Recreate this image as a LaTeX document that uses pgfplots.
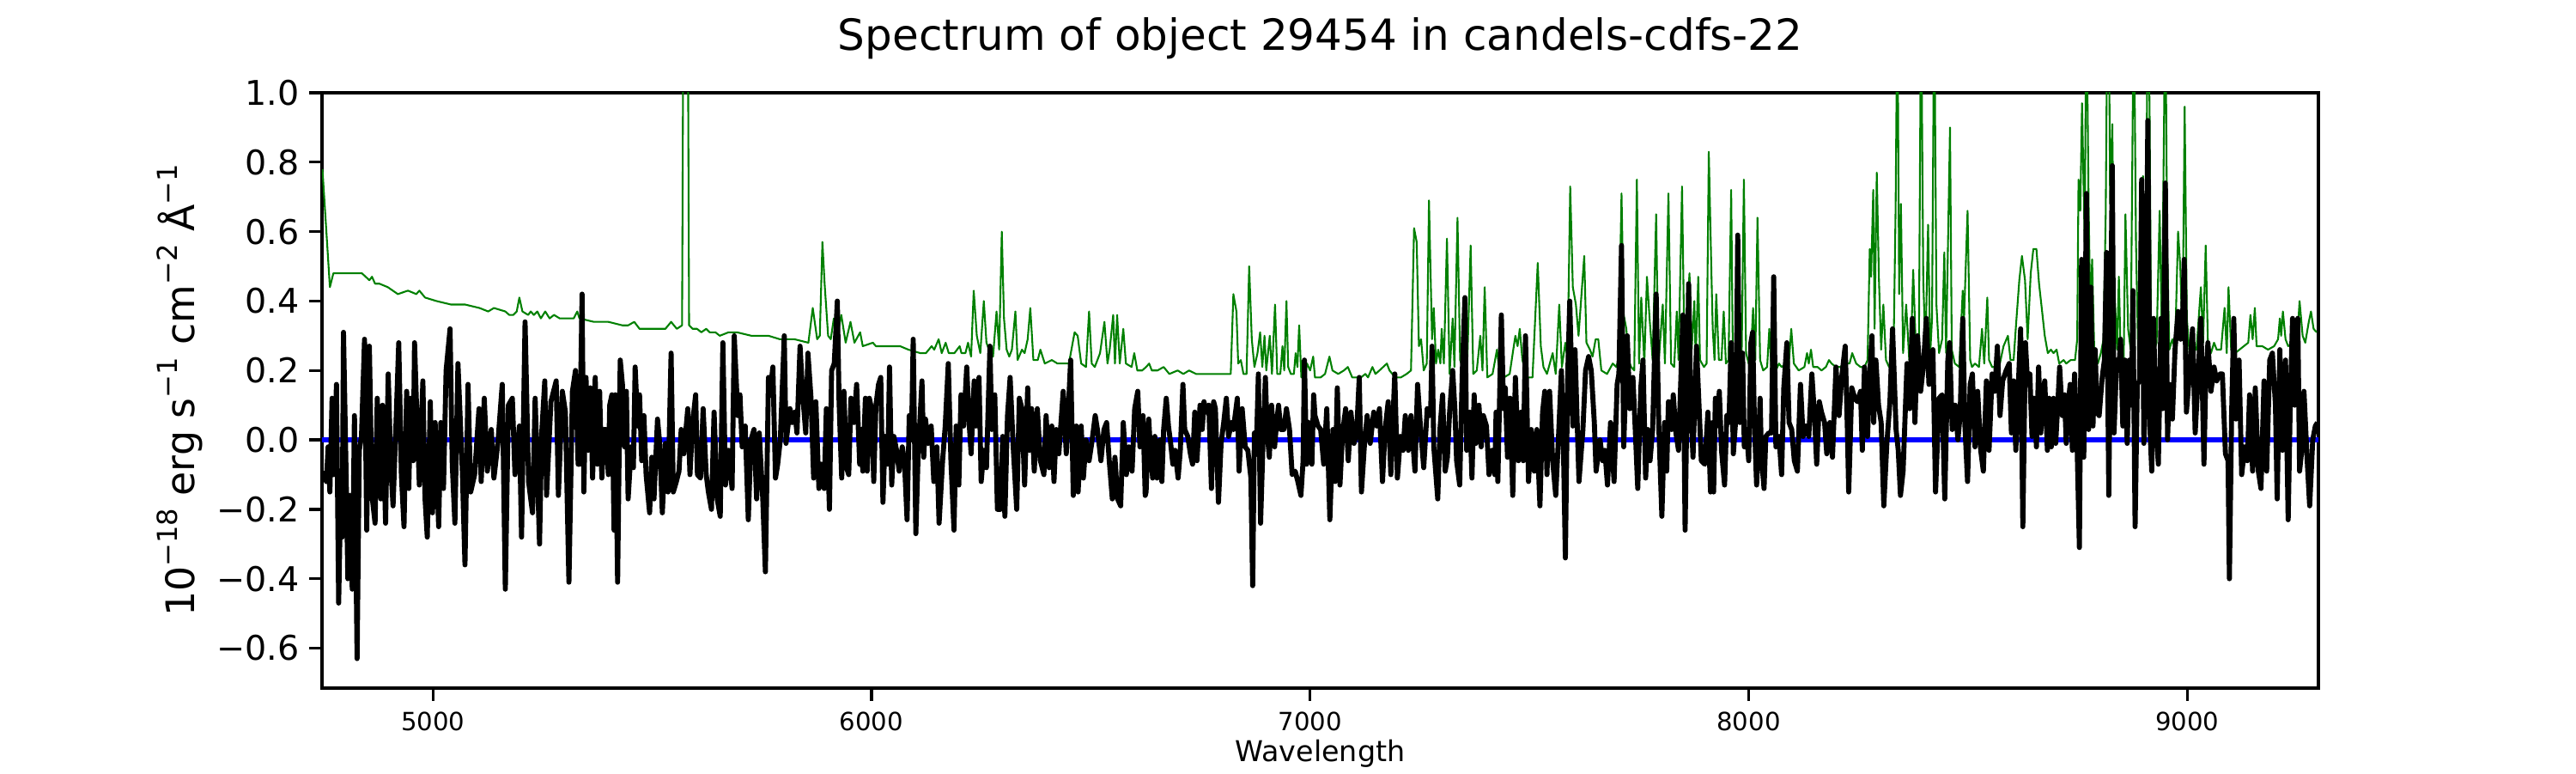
\documentclass[border=0pt]{standalone}
\usepackage{pgfplots}
\pgfplotsset{compat=1.18}
\usepackage{pgfplotstable}
\usepackage{fontspec}
\setmainfont{DejaVu Sans}
\definecolor{mplgreen}{rgb}{0,0.5,0}
\newcommand\sups[1]{\raisebox{0.42em}{\fontsize{7.7bp}{8bp}\selectfont #1}}

\pgfplotstableread{
x y
4750 -0.09
4757 -0.12
4761 -0.02
4765 -0.15
4770 0.12
4774 -0.10
4780 0.16
4785 -0.47
4789 -0.19
4793 -0.28
4796 0.31
4802 -0.10
4806 -0.40
4810 -0.16
4816 -0.43
4821 0.07
4827 -0.63
4832 -0.03
4837 0.01
4844 0.29
4849 -0.26
4855 0.27
4861 -0.16
4868 -0.24
4873 0.12
4881 -0.17
4885 0.10
4892 -0.24
4898 0.19
4904 -0.08
4909 -0.19
4915 0.02
4922 0.28
4928 -0.10
4934 -0.25
4940 0.14
4945 -0.14
4949 0.12
4955 -0.06
4958 0.28
4962 0.12
4969 -0.13
4977 0.17
4982 -0.17
4987 -0.28
4994 0.11
4999 -0.21
5005 0.05
5013 -0.25
5018 0.05
5024 -0.14
5030 0.20
5039 0.32
5044 -0.07
5050 -0.24
5057 0.22
5067 -0.09
5073 -0.36
5080 0.16
5086 -0.15
5095 -0.10
5105 0.09
5110 -0.12
5117 0.12
5124 -0.09
5133 0.03
5139 -0.11
5148 -0.01
5158 0.16
5165 -0.43
5172 0.10
5181 0.12
5187 -0.10
5197 0.04
5202 -0.28
5210 0.34
5218 -0.12
5227 -0.21
5233 0.12
5243 -0.30
5248 0.02
5255 0.17
5259 -0.16
5269 0.11
5281 0.17
5286 -0.16
5295 0.14
5302 0.08
5310 -0.41
5318 0.14
5325 0.20
5331 -0.07
5334 -0.07
5340 0.42
5344 -0.15
5349 0.18
5354 -0.03
5359 0.15
5364 -0.11
5370 0.18
5375 -0.07
5380 0.14
5385 -0.11
5390 0.03
5394 0.03
5400 -0.10
5403 0.10
5408 0.13
5413 -0.26
5416 0.13
5421 -0.41
5427 0.23
5432 0.16
5437 -0.02
5441 0.14
5445 -0.17
5452 -0.02
5457 -0.08
5461 0.21
5467 0.04
5471 0.13
5476 -0.06
5481 0.07
5486 -0.10
5494 -0.21
5499 -0.05
5504 -0.17
5512 0.06
5517 -0.01
5523 -0.21
5530 -0.01
5536 -0.15
5543 0.25
5548 -0.15
5555 -0.12
5561 -0.09
5566 0.03
5572 -0.04
5581 0.09
5586 -0.10
5592 0.05
5599 0.13
5603 -0.10
5610 -0.11
5616 0.09
5623 -0.10
5628 -0.15
5635 -0.20
5641 0.08
5648 -0.17
5655 -0.22
5661 0.28
5667 -0.13
5674 -0.03
5682 -0.14
5687 0.30
5695 0.07
5700 0.13
5705 -0.02
5712 0.04
5719 -0.23
5725 0.00
5732 0.03
5738 -0.17
5744 0.02
5752 -0.17
5758 -0.38
5765 0.18
5770 0.15
5775 0.21
5781 -0.11
5786 -0.07
5792 0.00
5801 0.30
5805 -0.01
5814 0.09
5819 0.05
5825 0.08
5830 0.02
5837 0.27
5843 0.13
5850 0.02
5855 0.25
5862 0.12
5868 -0.11
5873 0.11
5880 -0.14
5886 -0.07
5892 -0.14
5897 0.09
5904 -0.20
5909 0.20
5915 0.22
5922 0.40
5926 0.11
5932 -0.11
5937 0.14
5943 -0.08
5948 -0.10
5953 0.12
5960 0.05
5966 0.16
5973 -0.07
5977 0.03
5980 -0.09
5986 0.12
5990 -0.09
5995 0.12
6000 0.09
6005 -0.12
6010 0.10
6016 0.16
6021 0.18
6026 -0.18
6031 0.01
6037 -0.07
6041 0.21
6046 -0.13
6051 0.01
6057 -0.03
6063 -0.09
6070 -0.02
6075 -0.06
6081 -0.23
6086 0.07
6091 0.00
6095 0.29
6101 -0.27
6106 -0.05
6115 0.17
6119 -0.05
6123 0.06
6129 -0.01
6136 0.04
6142 -0.12
6149 -0.02
6154 -0.24
6162 -0.06
6168 0.04
6175 0.22
6181 -0.06
6188 -0.26
6193 0.04
6199 -0.13
6204 0.13
6210 0.04
6217 0.21
6223 0.04
6227 -0.04
6234 0.17
6238 0.04
6245 0.18
6250 -0.12
6256 -0.03
6262 -0.08
6270 0.27
6274 0.03
6281 0.13
6287 -0.20
6294 -0.20
6299 0.01
6304 -0.22
6310 0.07
6316 0.18
6323 -0.02
6331 -0.20
6337 0.12
6343 0.09
6349 -0.13
6356 0.15
6360 -0.03
6365 0.09
6371 -0.09
6378 0.09
6385 -0.06
6393 -0.10
6398 0.07
6405 -0.08
6411 0.04
6416 -0.12
6421 0.03
6427 -0.04
6437 0.14
6444 -0.04
6454 0.23
6460 -0.16
6467 0.04
6471 -0.15
6478 0.04
6483 -0.11
6489 0.00
6496 -0.06
6502 -0.01
6510 0.07
6515 0.03
6523 -0.06
6530 0.03
6536 0.05
6542 -0.06
6549 -0.17
6555 -0.05
6561 -0.17
6568 -0.19
6574 0.05
6581 -0.10
6587 -0.02
6594 -0.09
6600 0.09
6607 0.14
6612 -0.02
6619 0.07
6624 -0.16
6626 -0.15
6632 0.06
6636 -0.03
6641 -0.11
6646 0.01
6651 -0.11
6658 0.00
6662 -0.12
6666 0.03
6672 0.12
6677 0.04
6682 -0.01
6687 -0.07
6692 -0.03
6699 -0.11
6704 -0.03
6710 0.16
6714 0.03
6721 0.01
6727 -0.04
6732 -0.07
6737 0.08
6742 -0.06
6749 0.10
6754 0.03
6758 0.11
6763 0.08
6769 0.10
6775 -0.14
6780 0.11
6784 0.09
6791 -0.18
6797 -0.01
6803 0.05
6809 0.12
6814 0.01
6821 0.05
6825 0.03
6834 0.12
6838 -0.09
6845 0.09
6852 -0.02
6858 -0.03
6865 -0.11
6869 -0.42
6873 0.02
6878 0.00
6882 0.19
6887 -0.24
6893 0.01
6898 0.18
6902 0.02
6907 -0.05
6912 0.10
6919 -0.02
6923 0.04
6928 0.10
6933 0.03
6940 0.03
6946 0.09
6953 0.03
6959 -0.10
6966 -0.09
6972 -0.12
6979 -0.16
6984 -0.06
6987 0.23
6992 -0.07
6997 0.05
7004 -0.07
7008 0.13
7011 0.07
7018 0.04
7024 0.03
7031 -0.07
7038 0.09
7045 -0.23
7052 0.03
7057 -0.12
7062 0.15
7068 -0.13
7074 0.02
7081 0.09
7087 -0.06
7093 0.08
7100 -0.01
7106 0.02
7112 0.18
7117 -0.15
7124 -0.01
7130 0.07
7137 -0.01
7145 0.08
7152 0.04
7158 0.09
7165 -0.12
7171 0.03
7178 0.11
7184 -0.10
7193 0.19
7199 -0.11
7206 0.01
7212 -0.03
7217 0.07
7224 -0.03
7230 0.07
7239 -0.09
7245 0.16
7252 0.03
7259 -0.08
7267 0.09
7272 0.07
7275 0.09
7278 0.27
7282 -0.02
7291 -0.17
7296 0.03
7302 0.13
7308 -0.09
7313 -0.05
7318 0.08
7325 0.20
7330 0.09
7334 -0.06
7341 -0.13
7347 0.20
7353 0.41
7357 -0.03
7364 0.08
7369 -0.11
7374 0.13
7378 -0.01
7385 0.10
7390 -0.02
7395 0.07
7402 0.04
7408 -0.10
7415 -0.03
7421 -0.10
7424 0.08
7428 -0.12
7436 0.36
7441 0.09
7445 0.15
7450 -0.05
7456 0.12
7462 -0.16
7468 0.18
7475 -0.06
7481 0.08
7486 -0.06
7491 0.30
7498 -0.12
7504 0.03
7511 -0.09
7517 0.03
7524 -0.19
7530 0.08
7535 0.14
7540 -0.10
7546 0.14
7553 -0.06
7560 -0.16
7566 0.00
7573 0.20
7578 -0.05
7582 -0.34
7587 0.17
7592 0.40
7599 0.04
7604 0.26
7608 0.09
7613 -0.12
7622 0.03
7628 0.20
7635 0.24
7641 0.20
7648 0.05
7652 -0.09
7661 0.00
7667 -0.06
7672 -0.03
7678 -0.13
7685 0.05
7693 -0.12
7700 0.16
7704 0.19
7710 0.56
7715 -0.02
7723 0.30
7729 0.09
7736 0.18
7741 0.04
7747 -0.14
7754 0.15
7759 0.23
7765 -0.11
7770 0.03
7775 -0.06
7781 0.03
7789 0.42
7795 0.04
7802 -0.22
7808 0.05
7813 -0.09
7817 0.11
7824 0.03
7828 0.13
7834 0.02
7840 -0.03
7850 0.36
7855 -0.26
7863 0.45
7868 0.09
7873 -0.05
7881 0.27
7886 0.12
7892 -0.06
7900 -0.07
7907 0.08
7913 -0.15
7918 0.05
7920 -0.15
7924 0.12
7928 0.04
7933 0.14
7938 -0.03
7945 -0.13
7950 0.07
7955 0.05
7960 0.28
7965 -0.04
7971 0.07
7975 0.59
7980 0.05
7986 0.25
7990 -0.02
7995 0.03
8000 -0.06
8005 0.28
8009 0.31
8013 0.05
8018 -0.13
8023 0.01
8026 0.12
8029 -0.05
8035 -0.14
8039 0.01
8046 0.02
8052 0.02
8057 0.47
8062 -0.02
8069 0.01
8075 -0.10
8080 0.15
8087 0.28
8092 0.05
8098 0.03
8104 -0.06
8111 -0.09
8118 0.16
8124 0.01
8131 0.04
8137 0.01
8144 0.19
8150 0.07
8155 -0.07
8161 0.11
8166 0.08
8173 0.05
8178 -0.04
8185 0.05
8191 -0.05
8199 0.21
8206 0.07
8212 0.18
8220 0.27
8225 0.03
8228 -0.15
8235 0.15
8242 0.12
8248 0.11
8255 0.14
8259 -0.03
8264 0.21
8271 0.01
8276 0.19
8281 0.30
8285 0.05
8290 0.23
8296 0.10
8302 0.05
8308 -0.19
8315 -0.01
8322 0.11
8328 0.32
8336 0.03
8341 -0.03
8346 -0.16
8352 -0.09
8361 0.22
8367 0.09
8373 0.35
8379 0.05
8385 0.30
8392 0.14
8398 0.21
8405 0.35
8411 0.16
8420 0.26
8426 -0.15
8434 0.12
8441 0.13
8447 -0.17
8454 0.23
8458 0.28
8464 0.03
8471 0.10
8477 0.00
8482 0.07
8488 0.35
8493 0.04
8499 -0.12
8505 0.16
8510 0.19
8516 -0.02
8522 0.14
8529 -0.03
8535 -0.09
8542 0.17
8548 -0.03
8555 0.19
8561 0.14
8567 0.27
8573 0.07
8579 0.17
8587 0.20
8594 0.22
8599 0.02
8604 0.17
8609 -0.03
8614 0.13
8620 0.32
8625 -0.25
8631 0.28
8636 0.16
8641 0.19
8646 0.01
8651 0.12
8656 -0.02
8661 0.21
8666 0.02
8670 0.13
8675 0.17
8681 -0.03
8685 0.12
8690 -0.02
8695 0.12
8700 -0.01
8705 0.11
8709 0.21
8715 0.07
8720 0.13
8724 -0.01
8728 0.10
8733 0.16
8738 -0.03
8743 0.19
8749 -0.03
8754 -0.31
8759 0.52
8764 -0.05
8770 0.71
8775 0.03
8780 0.44
8785 0.04
8790 0.26
8794 0.08
8799 0.07
8806 0.18
8811 0.23
8816 0.54
8821 -0.16
8829 0.79
8833 0.02
8839 0.23
8844 0.21
8848 0.29
8853 0.04
8858 0.23
8863 -0.01
8868 0.23
8873 0.10
8876 0.43
8881 -0.25
8886 0.16
8891 0.17
8896 0.75
8901 -0.01
8905 0.16
8910 0.92
8915 0.03
8919 -0.09
8923 0.35
8929 0.03
8934 -0.07
8940 0.35
8944 0.09
8950 0.74
8955 0.00
8959 0.16
8966 0.06
8972 0.26
8979 0.37
8985 0.29
8990 0.38
8993 0.52
8998 0.08
9005 0.19
9012 0.32
9018 0.02
9025 0.19
9031 0.35
9038 -0.07
9042 0.17
9047 0.28
9054 0.14
9061 0.21
9067 0.17
9074 0.19
9080 0.19
9087 -0.04
9093 -0.06
9096 -0.40
9101 0.07
9106 0.35
9111 0.06
9118 0.23
9124 -0.10
9131 -0.02
9137 -0.06
9142 0.13
9149 -0.09
9155 0.15
9162 -0.09
9168 -0.14
9175 0.17
9181 -0.09
9188 0.23
9194 0.25
9201 0.10
9205 -0.17
9211 0.26
9217 -0.03
9224 0.23
9230 -0.23
9235 0.12
9240 0.35
9245 0.10
9252 0.35
9256 -0.09
9261 -0.03
9266 0.14
9273 -0.05
9279 -0.19
9286 0.00
9292 0.04
9297 0.05
}\blackdata

\pgfplotstableread{
x y
4748 0.78
4765 0.44
4773 0.48
4799 0.48
4838 0.48
4855 0.46
4861 0.47
4868 0.45
4878 0.45
4897 0.44
4920 0.42
4943 0.43
4962 0.42
4969 0.43
4982 0.41
5008 0.40
5041 0.39
5073 0.39
5106 0.38
5126 0.37
5139 0.38
5165 0.37
5174 0.36
5183 0.36
5191 0.37
5197 0.41
5204 0.37
5217 0.36
5223 0.37
5230 0.36
5238 0.37
5246 0.35
5256 0.37
5266 0.35
5276 0.36
5289 0.35
5308 0.35
5321 0.35
5329 0.37
5334 0.35
5367 0.34
5400 0.34
5432 0.33
5445 0.33
5459 0.34
5471 0.32
5497 0.32
5530 0.32
5543 0.34
5556 0.32
5568 0.33
5571 1.30
5581 1.30
5584 0.33
5592 0.32
5602 0.32
5612 0.31
5623 0.32
5631 0.31
5644 0.31
5654 0.30
5674 0.31
5693 0.31
5726 0.30
5765 0.30
5791 0.29
5824 0.29
5856 0.28
5866 0.38
5876 0.29
5882 0.30
5888 0.57
5893 0.45
5901 0.30
5907 0.29
5914 0.35
5920 0.29
5931 0.36
5941 0.28
5952 0.34
5961 0.28
5974 0.31
5980 0.27
6003 0.28
6010 0.27
6029 0.27
6046 0.27
6065 0.27
6084 0.26
6111 0.25
6124 0.25
6137 0.27
6143 0.26
6153 0.29
6160 0.25
6169 0.28
6176 0.25
6189 0.25
6201 0.27
6205 0.25
6214 0.25
6220 0.28
6227 0.24
6233 0.43
6240 0.30
6248 0.25
6256 0.40
6262 0.28
6271 0.25
6277 0.24
6285 0.37
6291 0.26
6297 0.60
6302 0.35
6308 0.26
6314 0.24
6320 0.26
6328 0.37
6333 0.23
6343 0.26
6349 0.25
6356 0.29
6362 0.38
6369 0.23
6379 0.23
6385 0.26
6395 0.22
6411 0.23
6424 0.22
6437 0.22
6450 0.22
6463 0.31
6470 0.30
6478 0.22
6489 0.21
6496 0.37
6502 0.22
6509 0.21
6521 0.25
6531 0.34
6538 0.22
6543 0.26
6551 0.36
6555 0.22
6560 0.36
6566 0.22
6574 0.32
6580 0.22
6593 0.21
6599 0.25
6606 0.20
6617 0.20
6626 0.21
6633 0.22
6639 0.20
6652 0.20
6666 0.21
6679 0.19
6698 0.20
6711 0.19
6724 0.20
6740 0.19
6757 0.19
6783 0.19
6819 0.19
6825 0.42
6832 0.37
6836 0.22
6842 0.23
6848 0.19
6855 0.19
6861 0.50
6867 0.29
6873 0.21
6880 0.25
6886 0.31
6891 0.21
6896 0.30
6900 0.20
6908 0.30
6913 0.19
6920 0.39
6925 0.19
6932 0.19
6937 0.27
6941 0.20
6946 0.40
6950 0.21
6956 0.19
6963 0.19
6967 0.25
6971 0.21
6975 0.33
6980 0.18
6989 0.19
6993 0.22
7000 0.20
7007 0.24
7011 0.18
7024 0.18
7034 0.19
7044 0.24
7051 0.20
7064 0.19
7077 0.20
7086 0.21
7096 0.18
7116 0.18
7126 0.19
7132 0.18
7142 0.21
7149 0.19
7158 0.20
7175 0.22
7181 0.20
7194 0.18
7207 0.18
7220 0.19
7230 0.20
7237 0.61
7243 0.57
7248 0.27
7253 0.29
7259 0.20
7266 0.22
7271 0.69
7278 0.29
7282 0.38
7287 0.22
7292 0.26
7297 0.22
7300 0.32
7305 0.22
7312 0.58
7318 0.19
7325 0.35
7329 0.21
7336 0.64
7342 0.23
7351 0.20
7358 0.21
7366 0.56
7372 0.19
7380 0.20
7388 0.30
7393 0.20
7398 0.44
7404 0.18
7416 0.19
7426 0.26
7432 0.19
7442 0.18
7455 0.19
7462 0.25
7468 0.30
7473 0.27
7478 0.32
7484 0.23
7494 0.18
7507 0.18
7519 0.51
7526 0.27
7532 0.21
7540 0.19
7553 0.25
7560 0.19
7568 0.39
7574 0.21
7582 0.28
7587 0.23
7593 0.73
7599 0.44
7606 0.39
7612 0.30
7625 0.53
7630 0.28
7638 0.26
7644 0.24
7651 0.29
7657 0.29
7664 0.20
7677 0.19
7690 0.22
7698 0.21
7703 0.23
7710 0.71
7715 0.36
7721 0.32
7726 0.23
7732 0.21
7739 0.20
7745 0.75
7750 0.22
7755 0.41
7762 0.22
7768 0.47
7774 0.35
7781 0.23
7789 0.65
7794 0.21
7804 0.39
7809 0.22
7817 0.71
7823 0.22
7830 0.21
7836 0.37
7840 0.23
7848 0.73
7853 0.29
7860 0.38
7865 0.48
7870 0.26
7876 0.40
7879 0.23
7885 0.47
7889 0.23
7898 0.21
7904 0.22
7909 0.83
7915 0.48
7918 0.32
7922 0.23
7926 0.42
7932 0.23
7938 0.23
7943 0.37
7948 0.22
7954 0.23
7960 0.72
7964 0.22
7971 0.21
7977 0.23
7984 0.25
7989 0.75
7994 0.25
8000 0.22
8007 0.30
8010 0.38
8015 0.23
8020 0.64
8026 0.23
8033 0.20
8042 0.21
8047 0.32
8052 0.20
8062 0.20
8069 0.22
8075 0.21
8085 0.22
8091 0.21
8097 0.32
8103 0.22
8114 0.20
8127 0.21
8133 0.25
8137 0.22
8142 0.26
8147 0.21
8157 0.21
8166 0.20
8176 0.21
8183 0.23
8189 0.22
8199 0.21
8209 0.21
8219 0.22
8230 0.22
8236 0.25
8245 0.22
8255 0.21
8264 0.21
8271 0.23
8276 0.55
8279 0.47
8284 0.72
8287 0.32
8292 0.77
8297 0.46
8302 0.26
8307 0.39
8313 0.23
8320 0.21
8330 0.23
8335 0.67
8339 1.30
8343 0.42
8347 0.68
8352 0.25
8359 0.39
8366 0.23
8370 0.26
8375 0.49
8382 0.23
8388 0.26
8393 1.30
8398 0.46
8403 0.26
8409 0.62
8414 0.25
8418 0.35
8423 1.30
8428 0.39
8434 0.25
8441 0.29
8446 0.54
8450 0.25
8459 0.90
8463 0.26
8470 0.22
8480 0.21
8488 0.43
8491 0.35
8499 0.66
8505 0.23
8509 0.21
8516 0.22
8525 0.21
8532 0.32
8537 0.22
8544 0.41
8548 0.23
8555 0.21
8571 0.21
8581 0.27
8591 0.30
8597 0.23
8604 0.23
8610 0.34
8617 0.46
8623 0.53
8630 0.46
8636 0.29
8643 0.48
8649 0.55
8656 0.55
8662 0.45
8669 0.37
8675 0.30
8682 0.25
8689 0.26
8695 0.25
8702 0.26
8708 0.22
8718 0.23
8724 0.22
8734 0.23
8744 0.23
8749 0.29
8752 0.75
8756 0.66
8760 0.97
8766 0.57
8770 1.30
8775 0.68
8779 0.35
8783 0.52
8788 0.25
8796 0.22
8803 0.25
8809 0.29
8814 0.65
8818 1.30
8821 1.30
8824 0.68
8829 0.91
8833 0.46
8840 0.26
8844 0.47
8848 0.25
8855 0.23
8859 0.65
8865 0.32
8871 0.26
8878 1.30
8883 0.57
8888 0.25
8894 0.66
8899 0.76
8904 0.26
8910 1.30
8914 0.96
8917 0.35
8922 0.25
8930 0.28
8937 0.66
8942 0.29
8950 1.30
8954 0.57
8959 0.26
8966 0.29
8972 0.26
8979 0.60
8984 0.50
8989 0.29
8994 0.96
8999 0.35
9005 0.25
9012 0.26
9021 0.26
9031 0.44
9036 0.28
9042 0.56
9047 0.28
9054 0.25
9061 0.28
9067 0.26
9077 0.26
9085 0.38
9090 0.25
9094 0.44
9100 0.26
9109 0.25
9119 0.26
9129 0.27
9139 0.28
9144 0.36
9149 0.29
9154 0.38
9158 0.27
9171 0.27
9184 0.26
9198 0.27
9207 0.29
9211 0.35
9214 0.30
9218 0.37
9224 0.29
9230 0.27
9240 0.28
9250 0.28
9256 0.40
9263 0.30
9269 0.28
9277 0.34
9282 0.37
9288 0.32
9295 0.31
}\greendata

\begin{document}
\begin{tikzpicture}
\useasboundingbox (-90bp,-23.76bp) rectangle (630bp,192.24bp);
\begin{axis}[
  at={(0,0)}, anchor=south west,
  scale only axis, width=558bp, height=166.32bp,
  xmin=4747, xmax=9299, ymin=-0.715, ymax=1.0,
  axis line style={line width=0.8bp},
  every tick/.style={line width=0.8bp, black},
  major tick length=3.5bp,
  tick align=outside,
  xtick pos=bottom, ytick pos=left,
  scaled x ticks=false, scaled y ticks=false,
  xtick={5000,6000,7000,8000,9000},
  xticklabels={5000,6000,7000,8000,9000},
  ytick={-0.6,-0.4,-0.2,0,0.2,0.4,0.6,0.8,1.0},
  yticklabels={−0.6,−0.4,−0.2,0.0,0.2,0.4,0.6,0.8,1.0},
  x tick label style={font=\fontsize{7bp}{8bp}\selectfont, inner sep=0pt, anchor=north},
  y tick label style={font=\fontsize{9.5bp}{10bp}\selectfont, inner sep=0pt, anchor=east},
  xticklabel shift=3.0bp,
  yticklabel shift=2.7bp,
  title={Spectrum of object 29454 in candels-cdfs-22},
  title style={at={(axis description cs:0.5,1)}, anchor=base, yshift=6bp, inner sep=0pt, font=\fontsize{12bp}{14bp}\selectfont},
  xlabel={Wavelength},
  xlabel style={at={(axis description cs:0.5,0)}, anchor=base, yshift=-20.6bp, inner sep=0pt, font=\fontsize{8bp}{9bp}\selectfont},
  ylabel={10\sups{−18} erg s\sups{−1} cm\sups{−2} Å\sups{−1}},
  ylabel style={at={(axis description cs:-0.064,0.5)}, anchor=base, inner sep=0pt, font=\fontsize{11bp}{12bp}\selectfont},
]
\addplot[mplgreen, line width=0.5bp, line join=round] table[x=x,y=y] {\greendata};
\addplot[blue, line width=1.5bp] coordinates {(4747,0) (9299,0)};
\addplot[black, line width=1.4bp, line join=round] table[x=x,y=y] {\blackdata};
\end{axis}
\end{tikzpicture}
\end{document}
